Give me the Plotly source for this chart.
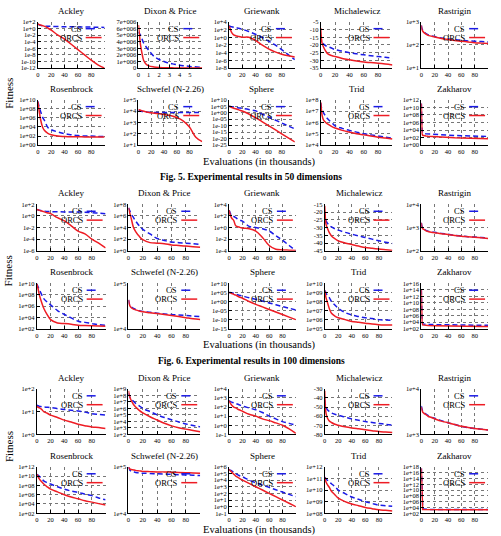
import plotly.graph_objects as go
from plotly.subplots import make_subplots
import math

x_evals = [0, 1, 2, 4, 7, 10, 15, 20, 30, 40, 50, 60, 70, 80, 90, 100]
x_zakharov = [0, 0.5, 1, 2, 4, 7, 10, 20, 30, 40, 50, 60, 70, 80, 90, 100]
x_dixon_g1 = [0, 0.1, 0.2, 0.35, 0.5, 0.75, 1, 1.5, 2, 2.5, 3, 3.5, 4, 4.5, 5, 5.5, 6, 6.2]

names = ["Ackley", "Dixon & Price", "Griewank", "Michalewicz", "Rastrigin",
         "Rosenbrock", "Schwefel (N-2.26)", "Sphere", "Trid", "Zakharov"]
captions = ["Fig. 5. Experimental results in 50 dimensions",
            "Fig. 6. Experimental results in 100 dimensions"]

# ---- group 1 ----
g1_ackley_cs = [20, 16, 12, 8, 6, 5, 4.5, 4, 3.5, 3.2, 3, 2.8, 2.6, 2.4, 2.2, 2]
g1_ackley_orcs = [20, 17, 14, 10, 7, 4, 1.3, 0.3, 1e-2, 6e-4, 1.6e-5, 4e-7, 1e-8, 2.5e-10, 1e-11, 1e-12]
g1_dixon_cs = [5.5e6, 5.2e6, 5e6, 4.4e6, 3.8e6, 3.2e6, 2.7e6, 1.8e6, 1.3e6, 1e6, 7.5e5, 6e5, 4.5e5, 3.5e5, 2.5e5, 2e5, 1.5e5, 1.4e5]
g1_dixon_orcs = [6.5e6, 5e6, 3.5e6, 2.2e6, 1.2e6, 6e5, 3.5e5, 1.8e5, 1e5, 7e4, 5e4, 4e4, 3.5e4, 3e4, 3e4, 2.5e4, 2e4, 2e4]
g1_griewank_cs = [1e3, 8e2, 6e2, 5e2, 4e2, 3e2, 2e2, 1.2e2, 3e1, 6, 1, 1e-1, 1e-2, 6e-4, 3e-5, 1.6e-6]
g1_griewank_orcs = [8e2, 3e2, 1e2, 1.6e1, 4, 2.5, 1.6, 1, 1, 1.6e-1, 1e-2, 1e-3, 1.6e-4, 4e-5, 1.6e-5, 8e-6]
g1_michal_cs = [-14, -17, -18.5, -19.5, -20.5, -21, -22, -23, -24, -25, -25.7, -26.4, -27, -27.5, -28, -28.6]
g1_michal_orcs = [-9, -16, -19, -21.5, -24, -25.8, -26.8, -27.5, -28.7, -29.6, -30.4, -31, -31.4, -31.8, -32.3, -32.9]
g1_rastrigin_cs = [7e2, 5e2, 4.5e2, 3.7e2, 3.1e2, 2.8e2, 2.5e2, 2.3e2, 2e2, 1.8e2, 1.7e2, 1.6e2, 1.5e2, 1.45e2, 1.4e2, 1.35e2]
g1_rastrigin_orcs = [7e2, 4.5e2, 4e2, 3.4e2, 2.9e2, 2.6e2, 2.4e2, 2.2e2, 1.9e2, 1.7e2, 1.55e2, 1.45e2, 1.35e2, 1.25e2, 1.2e2, 1.15e2]
g1_rosen_cs = [4e9, 1e9, 2.5e8, 3e7, 1.5e6, 2.5e5, 8e3, 2.5e3, 8e2, 3.2e2, 2e2, 1.3e2, 1e2, 1e2, 8e1, 8e1]
g1_rosen_orcs = [4e9, 3e8, 3e7, 5e5, 1e4, 1.6e3, 4e2, 2e2, 1e2, 8e1, 7e1, 7e1, 6.3e1, 6.3e1, 6.3e1, 6.3e1]
g1_schwefel_cs = [1.2e4, 1.1e4, 1e4, 9.5e3, 9e3, 8.5e3, 8e3, 7.5e3, 7.5e3, 7.5e3, 7.5e3, 7.5e3, 7.5e3, 7.5e3, 7.5e3, 7.5e3]
g1_schwefel_orcs = [1.4e4, 1.3e4, 1.25e4, 1.15e4, 1e4, 9e3, 8e3, 7e3, 6e3, 5e3, 4e3, 2.7e3, 1.4e3, 4e2, 5e1, 2e1]
g1_sphere_cs = [1e5, 8e4, 6e4, 4e4, 2.5e4, 1.3e4, 5e3, 2e3, 3e2, 3e1, 1e-1, 5e-4, 2.5e-6, 1.3e-8, 6e-11, 3e-13]
g1_sphere_orcs = [1e5, 6e4, 3e4, 1e4, 3e3, 1e3, 1.5e2, 2e1, 1e-1, 1.8e-4, 1.3e-7, 1e-10, 8e-14, 5.6e-17, 4e-20, 3e-23]
g1_trid_cs = [5e7, 2e7, 1.3e7, 7e6, 3.5e6, 2e6, 1e6, 5e5, 3e5, 2e5, 1.4e5, 1e5, 8e4, 6.3e4, 5e4, 4e4]
g1_trid_orcs = [6e7, 1.3e7, 4e6, 1.6e6, 1e6, 7e5, 4.5e5, 3.2e5, 2e5, 1.4e5, 1e5, 8e4, 6.3e4, 5e4, 4.2e4, 3.5e4]
g1_zakharov_cs = [1e11, 1e6, 1e4, 2e3, 1.2e3, 1e3, 9e2, 7e2, 5e2, 4e2, 3.5e2, 3e2, 2.8e2, 2.5e2, 2.2e2, 2e2]
g1_zakharov_orcs = [1e11, 1e5, 1e3, 4e2, 3e2, 2.5e2, 2.2e2, 1.6e2, 1.2e2, 1e2, 9e1, 8e1, 7e1, 6e1, 5.5e1, 5e1]

# ---- group 2 ----
g2_ackley_cs = [14, 12, 11, 9.5, 8, 7.2, 6, 5.5, 5.3, 5, 5, 4.8, 4.5, 3.5, 3, 2.5]
g2_ackley_orcs = [14, 12, 11, 9, 7, 5.5, 3.5, 2.5, 5e-1, 1.4e-1, 2e-2, 2.5e-3, 8e-4, 1e-4, 2e-5, 3e-6]
g2_dixon_cs = [2.5e7, 1.3e7, 7e6, 2e6, 5e5, 1.3e5, 2e4, 5e3, 8e2, 1.3e2, 6e1, 3.2e1, 2.5e1, 2e1, 1.6e1, 1.3e1]
g2_dixon_orcs = [2.5e7, 8e6, 2.5e6, 3e5, 1e4, 2e3, 3e2, 8e1, 2.5e1, 2e1, 1.6e1, 1e1, 8, 6.3, 5, 4]
g2_griewank_cs = [1e3, 5e2, 2.5e2, 1e2, 8e1, 5e1, 2e1, 1.3e1, 1.6, 1, 6.3e-1, 2.5e-1, 4e-2, 6.3e-3, 8e-4, 1e-4]
g2_griewank_orcs = [1e3, 3e2, 1.3e2, 4e1, 1.6e1, 2, 1.2, 8e-1, 6.3e-1, 2.5e-1, 2e-2, 8e-4, 1.8e-4, 1.4e-4, 1.25e-4, 1.1e-4]
g2_michal_cs = [-20, -24, -25.7, -27.2, -28.7, -29.6, -30.8, -31.7, -33.1, -34.3, -35.4, -36.4, -37.5, -38.6, -39.5, -40.3]
g2_michal_orcs = [-16, -24, -28, -30.5, -33.5, -35.4, -37.2, -38.6, -40, -41, -42, -42.9, -43.4, -43.9, -44.4, -44.8]
g2_rastrigin_cs = [1.6e3, 1.1e3, 1e3, 9e2, 7.5e2, 7e2, 6.5e2, 6.2e2, 5.6e2, 5.1e2, 4.6e2, 4.3e2, 4e2, 3.9e2, 3.7e2, 3.5e2]
g2_rastrigin_orcs = [1.6e3, 1e3, 9e2, 8.3e2, 7.2e2, 6.8e2, 6.3e2, 6e2, 5.4e2, 5e2, 4.5e2, 4.2e2, 4e2, 3.8e2, 3.6e2, 3.4e2]
g2_rosen_cs = [8e9, 4e9, 2e9, 6e8, 1e8, 2e7, 5e6, 1.6e6, 1.6e5, 3.2e4, 8e3, 2e3, 1.3e3, 8e2, 5e2, 4e2]
g2_rosen_orcs = [8e9, 2.5e9, 8e8, 6e7, 4e6, 4e5, 3e4, 4e3, 1e3, 8e2, 6e2, 4e2, 3.5e2, 3.2e2, 3e2, 2.8e2]
g2_schwefel_cs = [4.3e4, 3.6e4, 3.3e4, 3e4, 2.8e4, 2.65e4, 2.5e4, 2.4e4, 2.3e4, 2.2e4, 2.1e4, 2.05e4, 2e4, 1.95e4, 1.9e4, 1.85e4]
g2_schwefel_orcs = [4.3e4, 3.5e4, 3.2e4, 2.9e4, 2.7e4, 2.6e4, 2.45e4, 2.35e4, 2.25e4, 2.15e4, 2.05e4, 1.95e4, 1.85e4, 1.75e4, 1.65e4, 1.6e4]
g2_sphere_cs = [1e5, 9e4, 8e4, 6e4, 3e4, 1e4, 3e3, 1e3, 1e2, 1.6e1, 1.6, 1.6e-1, 1.6e-2, 1.6e-3, 2e-4, 2e-5]
g2_sphere_orcs = [1e5, 7e4, 5e4, 2.5e4, 8e3, 3e3, 3e2, 6e1, 1, 2.5e-2, 1e-3, 4e-5, 1.6e-6, 6e-8, 2.5e-9, 1e-10]
g2_trid_cs = [1.6e9, 1.2e9, 8e8, 5e8, 2.5e8, 1e8, 4e7, 1.8e7, 6e6, 3.2e6, 2.2e6, 1.6e6, 1.3e6, 1e6, 9e5, 8e5]
g2_trid_orcs = [1.6e9, 6e8, 2.5e8, 8e7, 1.5e7, 5e6, 2.5e6, 1.6e6, 1e6, 6.3e5, 5e5, 4e5, 3.2e5, 2.8e5, 2.6e5, 2.5e5]
g2_zakharov_cs = [1e14, 1e8, 1e5, 3e3, 2.5e3, 2.2e3, 2e3, 1.8e3, 1.6e3, 1.5e3, 1.4e3, 1.3e3, 1.25e3, 1.2e3, 1.15e3, 1.1e3]
g2_zakharov_orcs = [1e14, 1e7, 1e4, 1.5e3, 1.2e3, 1e3, 9e2, 8e2, 7e2, 6.5e2, 6e2, 6e2, 5.5e2, 5.5e2, 5e2, 5e2]

# ---- group 3 ----
g3_ackley_cs = [19, 18.5, 18, 17, 16.5, 16, 15.5, 15, 13.5, 12.5, 11.5, 10.7, 9.5, 8.1, 7.5, 7]
g3_ackley_orcs = [17, 16, 15.5, 14.5, 12.5, 10, 8.5, 7, 5.5, 4.2, 3.5, 2.8, 2.4, 2.1, 2, 1.8]
g3_dixon_cs = [2e8, 1e8, 5e7, 2.5e7, 1.2e7, 6e6, 2.5e6, 1e6, 3.2e5, 1e5, 4e4, 1.8e4, 8e3, 4e3, 2.2e3, 1.4e3]
g3_dixon_orcs = [5e8, 1.2e8, 5e7, 1.5e7, 4e6, 1.6e6, 5e5, 2e5, 5e4, 1.6e4, 5e3, 2e3, 1e3, 6.3e2, 4e2, 2.5e2]
g3_griewank_cs = [5e2, 4.5e2, 4e2, 3.5e2, 3e2, 2.5e2, 1.8e2, 1.3e2, 8e1, 5e1, 2.5e1, 1e1, 5, 2.5, 1.6, 1]
g3_griewank_orcs = [5e2, 3.5e2, 2.5e2, 1.6e2, 1e2, 8e1, 5e1, 3.5e1, 1.6e1, 1e1, 5, 3.2, 1.8, 1, 4e-1, 1.3e-1]
g3_michal_cs = [-42, -47, -50, -53, -55, -56.5, -58, -59, -61, -63, -64.5, -66, -67, -68, -69, -70]
g3_michal_orcs = [-32, -50, -57, -62, -65.5, -67, -69, -70, -71.7, -73, -74, -75, -76, -77, -77.5, -78]
g3_rastrigin_cs = [4.2e3, 3.6e3, 3.3e3, 3e3, 2.8e3, 2.6e3, 2.4e3, 2.25e3, 2e3, 1.8e3, 1.65e3, 1.5e3, 1.4e3, 1.35e3, 1.3e3, 1.25e3]
g3_rastrigin_orcs = [4e3, 3.4e3, 3.1e3, 2.9e3, 2.7e3, 2.5e3, 2.35e3, 2.2e3, 1.95e3, 1.8e3, 1.65e3, 1.5e3, 1.42e3, 1.35e3, 1.3e3, 1.25e3]
g3_rosen_cs = [2.5e10, 2e10, 1.6e10, 8e9, 3e9, 1e9, 4e8, 2e8, 5e7, 1.6e7, 6e6, 3.2e6, 1.3e6, 6.3e5, 2e5, 8e4]
g3_rosen_orcs = [2.5e10, 1.3e10, 6e9, 2e9, 6e8, 2e8, 5e7, 1.6e7, 4e6, 1e6, 3.2e5, 1.3e5, 5e4, 2.5e4, 1.2e4, 6e3]
g3_schwefel_cs = [1e5, 9e4, 8.5e4, 8e4, 7.8e4, 7.6e4, 7.4e4, 7.3e4, 7.2e4, 7.1e4, 7e4, 6.9e4, 6.8e4, 6.7e4, 6.6e4, 6.5e4]
g3_schwefel_orcs = [1e5, 9.3e4, 9e4, 8.8e4, 8.6e4, 8.4e4, 8.2e4, 8e4, 7.9e4, 7.8e4, 7.8e4, 7.7e4, 7.6e4, 7.5e4, 7.4e4, 7.3e4]
g3_sphere_cs = [4e5, 3.5e5, 3e5, 2.5e5, 1.6e5, 1e5, 5e4, 3.2e4, 1e4, 4e3, 1.8e3, 8e2, 3.5e2, 1.6e2, 7e1, 3.2e1]
g3_sphere_orcs = [4e5, 3.2e5, 2.5e5, 1.6e5, 8e4, 4e4, 2e4, 1e4, 3.2e3, 1e3, 3.2e2, 1e2, 3.2e1, 1e1, 3.2, 1]
g3_trid_cs = [1.3e11, 1.1e11, 9e10, 7e10, 5e10, 3.5e10, 2e10, 1e10, 5e9, 2.5e9, 1.6e9, 1e9, 7e8, 5e8, 4.5e8, 4e8]
g3_trid_orcs = [1.3e11, 8e10, 5e10, 3e10, 1.6e10, 8e9, 4e9, 2e9, 1e9, 6.3e8, 4.5e8, 3.2e8, 2.5e8, 2e8, 1.8e8, 1.6e8]
g3_zakharov_cs = [3e17, 1e16, 1e12, 3e3, 2.5e3, 2.3e3, 2.2e3, 2.1e3, 2e3, 2e3, 2e3, 2e3, 2e3, 2e3, 2e3, 2e3]
g3_zakharov_orcs = [3e17, 1e15, 1e10, 2e3, 1.8e3, 1.7e3, 1.6e3, 1.6e3, 1.6e3, 1.6e3, 1.6e3, 1.6e3, 1.6e3, 1.6e3, 1.6e3, 1.6e3]

# y tick labels of each panel (gnuplot style)
g1_yticks = [
    ["1e+2", "1e+0", "1e-2", "1e-4", "1e-6", "1e-8", "1e-10", "1e-12"],
    ["7e+006", "6e+006", "5e+006", "4e+006", "3e+006", "2e+006", "1e+006", "0"],
    ["1e+4", "1e+2", "1e+0", "1e-2", "1e-4", "1e-6", "1e-8"],
    ["-5", "-10", "-15", "-20", "-25", "-30", "-35"],
    ["1e+3", "1e+2", "1e+1"],
    ["1e+10", "1e+08", "1e+06", "1e+04", "1e+02", "1e+00"],
    ["1e+5", "1e+4", "1e+3", "1e+2", "1e+1"],
    ["1e+10", "1e+05", "1e+00", "1e-05", "1e-10", "1e-15", "1e-20", "1e-25"],
    ["1e+8", "1e+7", "1e+6", "1e+5", "1e+4"],
    ["1e+12", "1e+10", "1e+08", "1e+06", "1e+04", "1e+02", "1e+00"],
]
g2_yticks = [
    ["1e+2", "1e+0", "1e-2", "1e-4", "1e-6"],
    ["1e+8", "1e+6", "1e+4", "1e+2", "1e+0"],
    ["1e+4", "1e+2", "1e+0", "1e-2", "1e-4"],
    ["-15", "-20", "-25", "-30", "-35", "-40", "-45"],
    ["1e+4", "1e+3", "1e+2"],
    ["1e+10", "1e+08", "1e+06", "1e+04", "1e+02"],
    ["1e+5", "1e+4"],
    ["1e+10", "1e+05", "1e+00", "1e-05", "1e-10", "1e-15"],
    ["1e+10", "1e+09", "1e+08", "1e+07", "1e+06", "1e+05"],
    ["1e+16", "1e+14", "1e+12", "1e+10", "1e+08", "1e+06", "1e+04", "1e+02"],
]
g3_yticks = [
    ["1e+2", "1e+1", "1e+0"],
    ["1e+9", "1e+8", "1e+7", "1e+6", "1e+5", "1e+4", "1e+3", "1e+2"],
    ["1e+4", "1e+3", "1e+2", "1e+1", "1e+0", "1e-1"],
    ["-30", "-40", "-50", "-60", "-70", "-80"],
    ["1e+4", "1e+3"],
    ["1e+12", "1e+10", "1e+08", "1e+06", "1e+04", "1e+02"],
    ["1e+5", "1e+4"],
    ["1e+6", "1e+5", "1e+4", "1e+3", "1e+2", "1e+1", "1e+0", "1e-1"],
    ["1e+12", "1e+11", "1e+10", "1e+09", "1e+08"],
    ["1e+18", "1e+16", "1e+14", "1e+12", "1e+10", "1e+08", "1e+06", "1e+04", "1e+02"],
]
xticks_evals = [0, 20, 40, 60, 80]
xticks_dixon_g1 = [0, 1, 2, 3, 4, 5]

linear_panels = {"Dixon & Price": [0], "Michalewicz": [0, 1, 2]}  # groups with linear y

groups = [
    ([g1_ackley_cs, g1_dixon_cs, g1_griewank_cs, g1_michal_cs, g1_rastrigin_cs,
      g1_rosen_cs, g1_schwefel_cs, g1_sphere_cs, g1_trid_cs, g1_zakharov_cs],
     [g1_ackley_orcs, g1_dixon_orcs, g1_griewank_orcs, g1_michal_orcs, g1_rastrigin_orcs,
      g1_rosen_orcs, g1_schwefel_orcs, g1_sphere_orcs, g1_trid_orcs, g1_zakharov_orcs],
     g1_yticks),
    ([g2_ackley_cs, g2_dixon_cs, g2_griewank_cs, g2_michal_cs, g2_rastrigin_cs,
      g2_rosen_cs, g2_schwefel_cs, g2_sphere_cs, g2_trid_cs, g2_zakharov_cs],
     [g2_ackley_orcs, g2_dixon_orcs, g2_griewank_orcs, g2_michal_orcs, g2_rastrigin_orcs,
      g2_rosen_orcs, g2_schwefel_orcs, g2_sphere_orcs, g2_trid_orcs, g2_zakharov_orcs],
     g2_yticks),
    ([g3_ackley_cs, g3_dixon_cs, g3_griewank_cs, g3_michal_cs, g3_rastrigin_cs,
      g3_rosen_cs, g3_schwefel_cs, g3_sphere_cs, g3_trid_cs, g3_zakharov_cs],
     [g3_ackley_orcs, g3_dixon_orcs, g3_griewank_orcs, g3_michal_orcs, g3_rastrigin_orcs,
      g3_rosen_orcs, g3_schwefel_orcs, g3_sphere_orcs, g3_trid_orcs, g3_zakharov_orcs],
     g3_yticks),
]

# page geometry in pixels
W, H = 501, 536
SERIF = "Liberation Serif"
CS_COLOR = "#1a1ae6"
ORCS_COLOR = "#ee1c24"

def px(x):
    return x / W

def py(y):
    return 1 - y / H

col_x = [
    [(36, 103), (137, 201), (228, 294), (320, 392), (421, 488)],
    [(35, 104), (127, 199), (228, 295), (324, 392), (421, 488)],
    [(35, 104), (127, 199), (228, 295), (324, 392), (421, 488)],
]
row_y = [(18, 65), (97, 143), (203, 250), (283, 329), (390, 436), (469, 516)]
label_y = [(160, 90, 175), (346, 270, 362), (532.5, 448, None)]

fig = make_subplots(rows=6, cols=5)
annotations = []
shapes = []

def note(x, y, text, size, xanchor="center", angle=0):
    annotations.append(dict(x=px(x), y=py(y), xref="paper", yref="paper", text=text,
                            showarrow=False, xanchor=xanchor, yanchor="middle",
                            textangle=angle,
                            font=dict(family=SERIF, size=size, color="black")))

for g, (cs_list, orcs_list, ytick_list) in enumerate(groups):
    for j in range(10):
        r = g * 2 + j // 5
        c = j % 5
        name = names[j]
        if name == "Zakharov":
            xs = x_zakharov
        elif name == "Dixon & Price" and g == 0:
            xs = x_dixon_g1
        else:
            xs = x_evals
        smooth = "linear" if name == "Zakharov" else "spline"
        fig.add_trace(go.Scatter(x=xs, y=cs_list[j], mode="lines", line_shape=smooth,
                                 line=dict(color=CS_COLOR, width=1.5, dash="5px,3px")),
                      row=r + 1, col=c + 1)
        fig.add_trace(go.Scatter(x=xs, y=orcs_list[j], mode="lines", line_shape=smooth,
                                 line=dict(color=ORCS_COLOR, width=1.5)),
                      row=r + 1, col=c + 1)

        x0, x1 = col_x[g][c]
        y0, y1 = row_y[r]
        labels = ytick_list[j]
        vals = [float(t) for t in labels]
        is_linear = name in linear_panels and g in linear_panels[name]
        if is_linear:
            yr = [min(vals), max(vals)]
            ytype = "linear"
        else:
            yr = [math.log10(min(vals)) - 1e-6, math.log10(max(vals)) + 1e-6]
            ytype = "log"
        if name == "Dixon & Price" and g == 0:
            xr, xt = [0, 6.2], xticks_dixon_g1
        else:
            xr, xt = [0, 100], xticks_evals

        axis_style = dict(showline=True, linecolor="black", linewidth=1, mirror=False,
                          ticks="inside", ticklen=3, tickcolor="black",
                          showgrid=True, gridcolor="#777777", griddash="dot", gridwidth=0.7,
                          zeroline=False, tickfont=dict(family=SERIF, size=6.5, color="black"))
        fig.update_xaxes(domain=[px(x0), px(x1)], range=xr, tickvals=xt,
                         row=r + 1, col=c + 1, **axis_style)
        fig.update_yaxes(domain=[py(y1), py(y0)], type=ytype, range=yr,
                         tickvals=vals, ticktext=labels,
                         row=r + 1, col=c + 1, **axis_style)

        # panel title
        note((x0 + x1) / 2, y0 - 11, name, 9)
        # gnuplot-style key: text then line sample
        for k, (lab, col, dash) in enumerate([("CS", CS_COLOR, "dash"), ("ORCS", ORCS_COLOR, "solid")]):
            ky = y0 + 7 + 9 * k
            note(x1 - 21, ky, lab, 8.5, xanchor="right")
            shapes.append(dict(type="line", xref="paper", yref="paper",
                               x0=px(x1 - 19), x1=px(x1 - 3), y0=py(ky), y1=py(ky),
                               line=dict(color=col, width=1.5, dash=dash)))

    ev_y, fit_y, cap_y = label_y[g]
    note(258, ev_y, "Evaluations (in thousands)", 10.5)
    note(7, fit_y, "Fitness", 11, angle=-90)
    if cap_y is not None:
        note(250, cap_y, "<b>" + captions[g] + "</b>", 9.5)

fig.update_layout(width=W, height=H, autosize=False,
                  margin=dict(l=0, r=0, t=0, b=0),
                  paper_bgcolor="white", plot_bgcolor="white",
                  showlegend=False, annotations=annotations, shapes=shapes)

# drop the browser's default 8px body margin so the 501x536 figure fills the window exactly
fig.write_html("out.html", config={"displayModeBar": False},
               post_script="document.body.style.margin='0px';")
